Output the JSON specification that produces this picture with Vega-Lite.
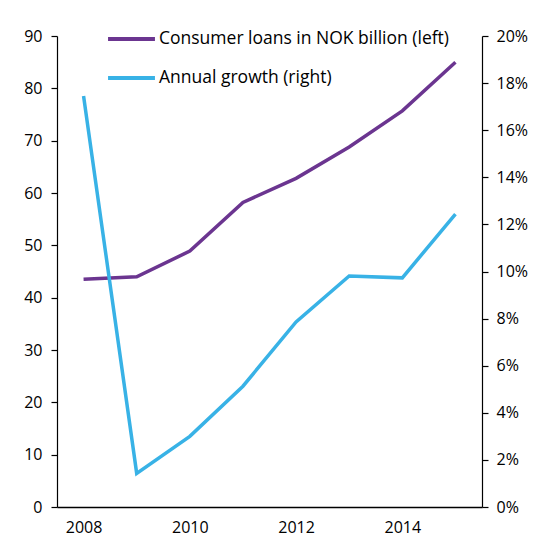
{
  "$schema": "https://vega.github.io/schema/vega-lite/v6.json",
  "autosize": {"type": "none"},
  "width": 425,
  "height": 471,
  "padding": {"left": 57, "top": 36, "right": 78, "bottom": 53},
  "data": {
    "values": [
      {"year": 2008, "series": "Consumer loans in NOK billion (left)", "value": 43.5},
      {"year": 2009, "series": "Consumer loans in NOK billion (left)", "value": 44.0},
      {"year": 2010, "series": "Consumer loans in NOK billion (left)", "value": 48.9},
      {"year": 2011, "series": "Consumer loans in NOK billion (left)", "value": 58.2},
      {"year": 2012, "series": "Consumer loans in NOK billion (left)", "value": 62.8},
      {"year": 2013, "series": "Consumer loans in NOK billion (left)", "value": 68.8},
      {"year": 2014, "series": "Consumer loans in NOK billion (left)", "value": 75.7},
      {"year": 2015, "series": "Consumer loans in NOK billion (left)", "value": 85.0},
      {"year": 2008, "series": "Annual growth (right)", "value": 17.45},
      {"year": 2009, "series": "Annual growth (right)", "value": 1.43},
      {"year": 2010, "series": "Annual growth (right)", "value": 3.0},
      {"year": 2011, "series": "Annual growth (right)", "value": 5.13},
      {"year": 2012, "series": "Annual growth (right)", "value": 7.86},
      {"year": 2013, "series": "Annual growth (right)", "value": 9.81},
      {"year": 2014, "series": "Annual growth (right)", "value": 9.73},
      {"year": 2015, "series": "Annual growth (right)", "value": 12.44}
    ]
  },
  "encoding": {
    "x": {
      "field": "year",
      "type": "quantitative",
      "scale": {"domain": [2007.5, 2015.5], "nice": false, "zero": false},
      "axis": {
        "title": null,
        "values": [2008, 2010, 2012, 2014],
        "format": "d",
        "ticks": false,
        "grid": false,
        "labelPadding": 12,
        "domainColor": "#000000",
        "domainWidth": 1.5
      }
    },
    "color": {
      "field": "series",
      "type": "nominal",
      "scale": {
        "domain": ["Consumer loans in NOK billion (left)", "Annual growth (right)"],
        "range": ["#6b3590", "#38b2e6"]
      },
      "legend": {
        "title": null,
        "orient": "none",
        "legendX": 49,
        "legendY": -5,
        "symbolType": "stroke",
        "symbolSize": 2200,
        "symbolStrokeWidth": 4,
        "clipHeight": 16,
        "rowPadding": 21,
        "labelOffset": 2,
        "labelFontSize": 17.5,
        "labelFont": "Open Sans",
        "labelColor": "#000000",
        "labelLimit": 400
      }
    }
  },
  "layer": [
    {
      "transform": [{"filter": "datum.series == 'Consumer loans in NOK billion (left)'"}],
      "mark": {"type": "line", "strokeWidth": 3.5},
      "encoding": {
        "y": {
          "field": "value",
          "type": "quantitative",
          "scale": {"domain": [0, 90], "nice": false},
          "axis": {
            "title": null,
            "orient": "left",
            "values": [0, 10, 20, 30, 40, 50, 60, 70, 80, 90],
            "grid": false,
            "tickSize": 6,
            "labelPadding": 9
          }
        }
      }
    },
    {
      "transform": [{"filter": "datum.series == 'Annual growth (right)'"}],
      "mark": {"type": "line", "strokeWidth": 3.5},
      "encoding": {
        "y": {
          "field": "value",
          "type": "quantitative",
          "scale": {"domain": [0, 20], "nice": false},
          "axis": {
            "title": null,
            "orient": "right",
            "values": [0, 2, 4, 6, 8, 10, 12, 14, 16, 18, 20],
            "labelExpr": "datum.value + '%'",
            "grid": false,
            "tickSize": 6,
            "labelPadding": 8
          }
        }
      }
    }
  ],
  "resolve": {"scale": {"y": "independent"}},
  "config": {
    "view": {"stroke": null},
    "axis": {
      "labelFont": "Open Sans",
      "labelFontSize": 16,
      "labelColor": "#000000",
      "domainColor": "#000000",
      "tickColor": "#000000",
      "domainWidth": 1.2,
      "tickWidth": 1.2
    }
  }
}
